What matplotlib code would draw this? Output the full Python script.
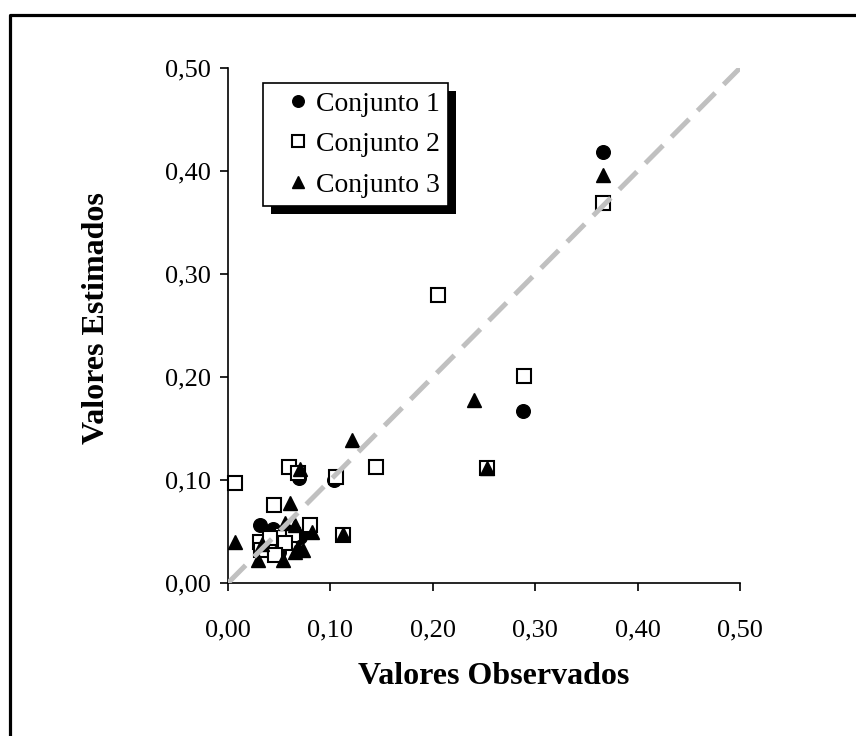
import matplotlib
matplotlib.use("Agg")
import matplotlib.pyplot as plt
from matplotlib.lines import Line2D
from matplotlib.patches import Rectangle
from matplotlib.ticker import FuncFormatter

plt.rcParams['font.family'] = ['Liberation Serif', 'DejaVu Serif']

# observed / estimated pairs for each data set
obs_1 = [0.366, 0.288, 0.253, 0.069, 0.104, 0.031, 0.044, 0.060, 0.112,
         0.070, 0.055, 0.033, 0.078, 0.050]
est_1 = [0.418, 0.167, 0.112, 0.102, 0.100, 0.056, 0.052, 0.050, 0.047,
         0.045, 0.040, 0.035, 0.050, 0.030]

obs_2 = [0.366, 0.289, 0.205, 0.145, 0.105, 0.060, 0.068, 0.007, 0.045,
         0.080, 0.112, 0.253, 0.031, 0.032, 0.053, 0.063, 0.056, 0.046, 0.041]
est_2 = [0.369, 0.201, 0.280, 0.113, 0.103, 0.113, 0.107, 0.097, 0.076,
         0.056, 0.047, 0.112, 0.040, 0.032, 0.047, 0.047, 0.039, 0.027, 0.044]

obs_3 = [0.366, 0.240, 0.253, 0.121, 0.070, 0.061, 0.007, 0.056, 0.065,
         0.082, 0.112, 0.068, 0.073, 0.029, 0.054, 0.065, 0.033]
est_3 = [0.396, 0.178, 0.112, 0.139, 0.111, 0.078, 0.040, 0.058, 0.056,
         0.050, 0.048, 0.035, 0.032, 0.022, 0.022, 0.030, 0.038]

ticks = [0.0, 0.1, 0.2, 0.3, 0.4, 0.5]

fig = plt.figure(figsize=(8.56, 7.36), dpi=100)
ax = fig.add_axes([228 / 856, 153 / 736, 512 / 856, 515 / 736])

ms = 9.8
ax.plot(obs_1, est_1, 'o', color='black', ms=ms, label='Conjunto 1',
        clip_on=False, zorder=3)
ax.plot(obs_2, est_2, 's', mfc='white', mec='black', mew=1.5, ms=ms,
        label='Conjunto 2', clip_on=False, zorder=3)
ax.plot(obs_3, est_3, '^', color='black', ms=ms, label='Conjunto 3',
        clip_on=False, zorder=3)

# 1:1 line
diag, = ax.plot([0, 0.5], [0, 0.5], color='#c0c0c0', lw=3.6, zorder=4,
                solid_capstyle='butt')
diag.set_dashes([5, 2.4])
diag.set_dash_capstyle('butt')

ax.set_xlim(0, 0.5)
ax.set_ylim(0, 0.5)
ax.set_xticks(ticks)
ax.set_yticks(ticks)
fmt = FuncFormatter(lambda v, p: f"{v:.2f}".replace('.', ','))
ax.xaxis.set_major_formatter(fmt)
ax.yaxis.set_major_formatter(fmt)
ax.tick_params(axis='both', direction='out', length=6, width=1.2,
               labelsize=19, color='black')
ax.tick_params(axis='x', pad=20)
ax.tick_params(axis='y', pad=6)

for side in ['top', 'right']:
    ax.spines[side].set_visible(False)
for side in ['left', 'bottom']:
    ax.spines[side].set_linewidth(1.2)

fig.text(494 / 856, 1 - 676 / 736, 'Valores Observados', fontsize=23,
         fontweight='bold', ha='center', va='center')
fig.text(96 / 856, 1 - 318 / 736, 'Valores Estimados', fontsize=23,
         fontweight='bold', ha='center', va='center', rotation=90)

leg = ax.legend(loc='upper left', bbox_to_anchor=(0.068, 0.971),
                fontsize=20, fancybox=False, framealpha=1,
                edgecolor='black', markerscale=0.85, handlelength=1.9,
                handletextpad=-0.3, borderpad=0.3, labelspacing=0.54,
                borderaxespad=0)
leg.get_frame().set_linewidth(1.2)
leg.set_zorder(6)

# drop shadow behind the legend box
fig.canvas.draw()
bb = leg.get_window_extent().transformed(fig.transFigure.inverted())
shadow = Rectangle((bb.x0 + 8 / 856, bb.y0 - 8 / 736), bb.width, bb.height,
                   transform=fig.transFigure, facecolor='black',
                   edgecolor='none', zorder=5)
ax.add_artist(shadow)
shadow.set_clip_on(False)

# outer frame line (left and top)
fig.add_artist(Line2D([9.5 / 856, 9.5 / 856, 1.0],
                      [0.0, 1 - 14.5 / 736, 1 - 14.5 / 736],
                      transform=fig.transFigure, color='black', lw=2.3))

fig.savefig('out.png', dpi=100)
